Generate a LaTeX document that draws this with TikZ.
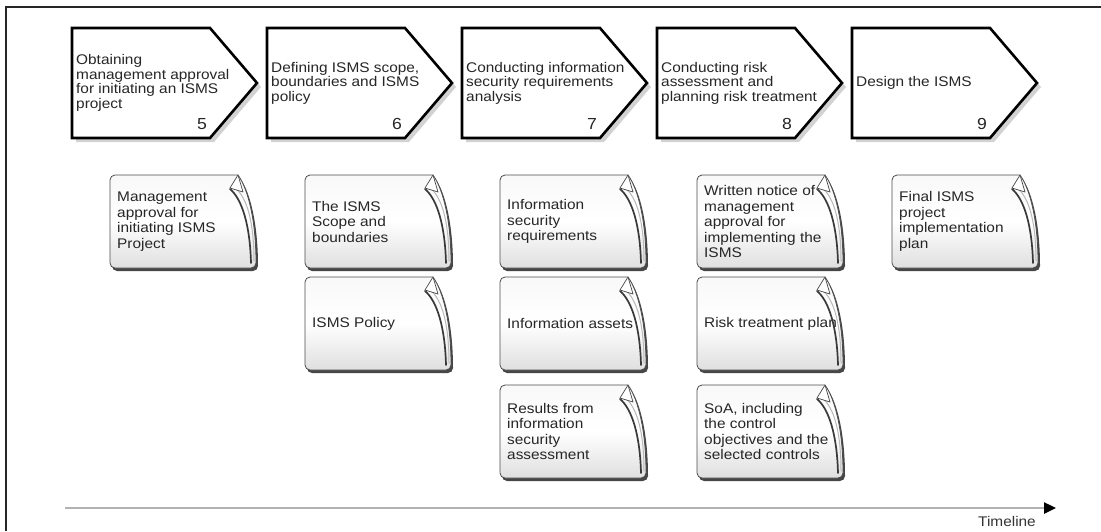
\documentclass[tikz,border=0pt]{standalone}
\usepackage{fontspec}
\setmainfont{Liberation Sans}[FakeStretch=1.1]
\usetikzlibrary{arrows.meta}

\tikzset{
  chevbox/.style={draw=black, line width=2.6pt, fill=white, line join=miter},
  chevshadow/.style={fill=gray!35},
  steptext/.style={anchor=west, align=left, inner sep=0pt, text=black!85,
    font=\fontsize{14}{14.5}\selectfont},
  numtext/.style={inner sep=0pt, text=black!85, font=\fontsize{16}{16}\selectfont},
  docshadow/.style={fill=gray!55!black},
  % the y axis points down here, so the shading runs upside down
  docbody/.style={top color=gray!5, bottom color=gray!25, middle color=white,
    draw=gray!60!black, line width=0.8pt},
  docflap/.style={fill=white, draw=gray!55!black, line width=0.7pt, line join=round},
  curldark/.style={draw=gray!45!black, line width=1.7pt, line cap=round},
  curllight/.style={draw=gray!55, line width=1pt, line cap=round},
  doctext/.style={anchor=west, align=left, inner sep=0pt, text=black!85,
    font=\fontsize{14}{15.5}\selectfont},
  timeline/.style={line width=2.4pt, gray!60,
    -{Triangle[black, length=12pt, width=11pt]}},
  tltext/.style={anchor=east, inner sep=0pt, text=black!80,
    font=\fontsize{14}{14}\selectfont},
  frameline/.style={line width=1.6pt, black!85}
}

% process step: name, left x, label, step number
\newcommand\stepchevron[4]{%
  \fill[chevshadow] (#2+4,32) -- (#2+142,32) -- (#2+189,87) -- (#2+142,142)
    -- (#2+4,142) -- cycle;
  \draw[chevbox] (#2,28) -- (#2+138,28) -- (#2+185,83) -- (#2+138,138)
    -- (#2,138) -- cycle;
  \node[steptext] (#1) at (#2+4,83) {#3};
  \node[numtext] (#1num) at (#2+130,124) {#4};
}

% deliverable sheet with a curled corner: name, left x, top y, label
\newcommand\docnote[4]{%
  \begin{scope}[shift={(#2,#3)}]
    \path[docshadow] (130,3) [rounded corners=5pt] -- (2,3) -- (2,96)
      -- (148,96) [sharp corners] .. controls (148,48) and (140,17) .. cycle;
    \path[docbody] (128,0) [rounded corners=5pt] -- (0,0) -- (0,93)
      -- (146,93) [sharp corners] .. controls (146,45) and (138,14) .. cycle;
    \draw[curllight] (124,12) .. controls (138,22) and (144,50) .. (144,86);
    \draw[curldark] (120,14) .. controls (132,24) and (140,50) .. (141,88);
    \path[docflap] (128,0) -- (120,13) -- (133,17) -- cycle;
    \node[doctext] (#1) at (7,46.5) {#4};
  \end{scope}
}

\begin{document}
\begin{tikzpicture}[x=1pt, y=-1pt]
  \useasboundingbox (0,0) rectangle (1101,531);

  % frame along the top and left edges
  \coordinate (frameBL) at (6,531);
  \coordinate (frameTL) at (6,7);
  \coordinate (frameTR) at (1101,7);
  \draw[frameline] (frameBL) -- (frameTL) -- (frameTR);

  % process steps
  \stepchevron{s5}{72}{Obtaining\\management approval\\for initiating an ISMS\\project}{5}
  \stepchevron{s6}{267}{Defining ISMS scope,\\boundaries and ISMS\\policy}{6}
  \stepchevron{s7}{462}{Conducting information\\security requirements\\analysis}{7}
  \stepchevron{s8}{657}{Conducting risk\\assessment and\\planning risk treatment}{8}
  \stepchevron{s9}{852}{Design the ISMS}{9}

  % deliverables
  \docnote{d5a}{110}{175}{Management\\approval for\\initiating ISMS\\Project}
  \docnote{d6a}{305}{175}{The ISMS\\Scope and\\boundaries}
  \docnote{d6b}{305}{277}{ISMS Policy}
  \docnote{d7a}{500}{175}{Information\\security\\requirements}
  \docnote{d7b}{500}{277}{Information assets}
  \docnote{d7c}{500}{385}{Results from\\information\\security\\assessment}
  \docnote{d8a}{697}{175}{Written notice of\\management\\approval for\\implementing the\\ISMS}
  \docnote{d8b}{697}{277}{Risk treatment plan}
  \docnote{d8c}{697}{385}{SoA, including\\the control\\objectives and the\\selected controls}
  \docnote{d9a}{892}{175}{Final ISMS\\project\\implementation\\plan}

  % timeline
  \coordinate (tlstart) at (65,508);
  \coordinate (tlend) at (1056,508);
  \draw[timeline] (tlstart) -- (tlend);
  \node[tltext] (tllabel) at (1036,521) {Timeline};
\end{tikzpicture}
\end{document}
